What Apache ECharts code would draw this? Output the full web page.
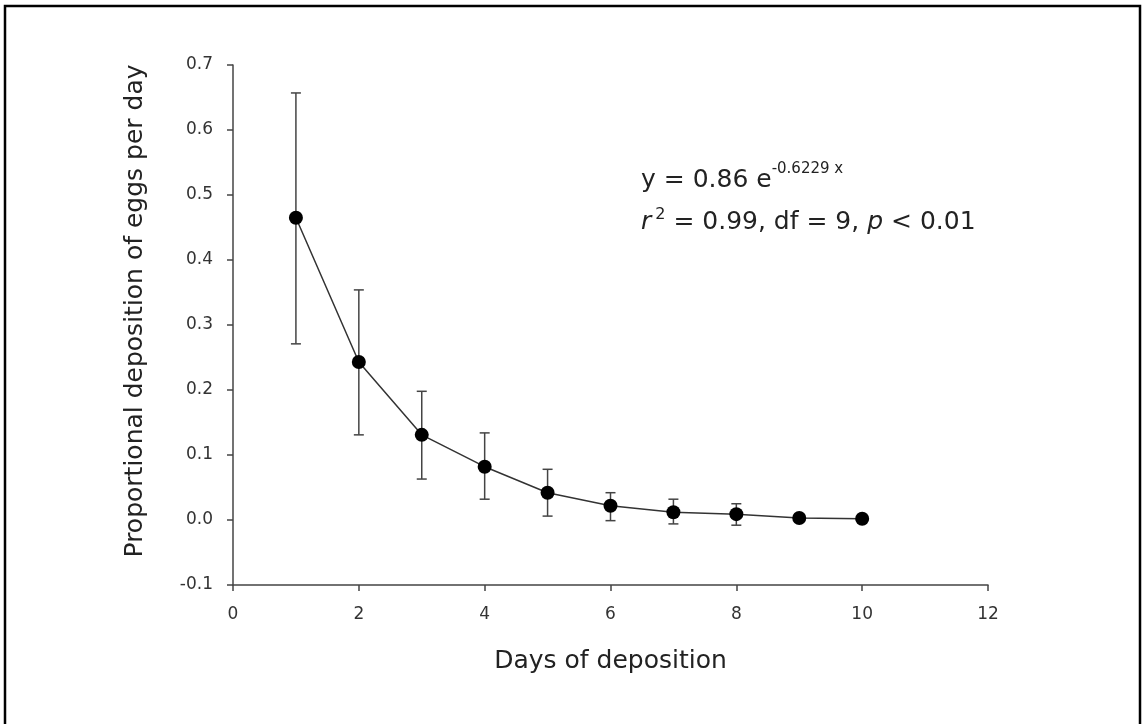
<!DOCTYPE html>
<html>
<head>
<meta charset="utf-8">
<title>Proportional deposition of eggs per day</title>
<script src="https://cdn.jsdelivr.net/npm/echarts@6/dist/echarts.min.js"></script>
<style>
html, body { margin: 0; padding: 0; background: #fff; }
#main { width: 1142px; height: 724px; }
</style>
</head>
<body>
<div id="main"></div>
<script>
// data
var days = [1, 2, 3, 4, 5, 6, 7, 8, 9, 10];
var meanDep = [0.465, 0.243, 0.131, 0.082, 0.042, 0.022, 0.012, 0.009, 0.003, 0.002];
var errHigh = [0.657, 0.354, 0.198, 0.134, 0.078, 0.042, 0.032, 0.025, 0.005, 0.004];
var errLow  = [0.271, 0.131, 0.063, 0.032, 0.006, -0.001, -0.006, -0.008, 0.001, 0.000];

var FONT = 'DejaVu Sans';

function buildChart()
{
    var myChart = echarts.init(document.getElementById('main'));

    var pts = [], bars = [];
    for (var i = 0; i < days.length; i++) {
        pts.push([days[i], meanDep[i]]);
        bars.push([days[i], errLow[i], errHigh[i]]);
    }

    var axisCol = '#444';

    var option = {
        backgroundColor: '#fff',
        animation: false,
        grid: { left: 233, right: 154, top: 65, bottom: 139 },
        xAxis: {
            type: 'value',
            min: 0, max: 12, interval: 2,
            name: 'Days of deposition',
            nameLocation: 'middle',
            nameGap: 64,
            nameTextStyle: { color: '#222', fontSize: 25, fontFamily: FONT },
            axisLine: { show: true, onZero: false, lineStyle: { color: axisCol, width: 1.5 } },
            axisTick: { show: true, length: 6, lineStyle: { color: axisCol, width: 1.5 } },
            axisLabel: { margin: 21, color: '#333', fontSize: 17, fontFamily: FONT },
            splitLine: { show: false }
        },
        yAxis: {
            type: 'value',
            min: -0.1, max: 0.7, interval: 0.1,
            name: 'Proportional deposition of eggs per day',
            nameLocation: 'middle',
            nameGap: 85,
            nameTextStyle: { color: '#222', fontSize: 25, fontFamily: FONT, padding: [0, 0, 0, 28] },
            axisLine: { show: true, onZero: false, lineStyle: { color: axisCol, width: 1.5 } },
            axisTick: { show: true, length: 6, lineStyle: { color: axisCol, width: 1.5 } },
            axisLabel: {
                margin: 20, color: '#333', fontSize: 17, fontFamily: FONT,
                formatter: function (v) { return v.toFixed(1); }
            },
            splitLine: { show: false }
        },
        series: [
            {
                // error bars
                type: 'custom',
                data: bars,
                z: 2,
                renderItem: function (params, api) {
                    var x = api.value(0);
                    var lo = api.coord([x, api.value(1)]);
                    var hi = api.coord([x, api.value(2)]);
                    var cap = 5;
                    var st = { stroke: '#444', lineWidth: 1.5 };
                    return {
                        type: 'group',
                        children: [
                            { type: 'line', shape: { x1: hi[0], y1: hi[1], x2: lo[0], y2: lo[1] }, style: st },
                            { type: 'line', shape: { x1: hi[0] - cap, y1: hi[1], x2: hi[0] + cap, y2: hi[1] }, style: st },
                            { type: 'line', shape: { x1: lo[0] - cap, y1: lo[1], x2: lo[0] + cap, y2: lo[1] }, style: st }
                        ]
                    };
                }
            },
            {
                type: 'line',
                data: pts,
                z: 3,
                symbol: 'circle',
                symbolSize: 14,
                itemStyle: { color: '#000' },
                lineStyle: { color: '#333', width: 1.5 }
            }
        ],
        graphic: [
            {
                type: 'rect',
                shape: { x: 5, y: 6, width: 1135, height: 740 },
                style: { fill: 'none', stroke: '#000', lineWidth: 2.5 },
                silent: true
            },
            {
                type: 'text',
                left: 641, top: 162,
                style: {
                    text: '{n|y = 0.86 e}{s|-0.6229 x}',
                    rich: {
                        n: { fontSize: 25, fill: '#222', fontFamily: FONT, verticalAlign: 'bottom' },
                        s: { fontSize: 15, fill: '#222', fontFamily: FONT, verticalAlign: 'top', padding: [0, 0, 16, 0] }
                    }
                }
            },
            {
                type: 'text',
                left: 641, top: 207,
                style: {
                    text: '{i|r}{s|2}{n| = 0.99, df = 9, }{i|p}{n| < 0.01}',
                    rich: {
                        n: { fontSize: 25, fill: '#222', fontFamily: FONT },
                        i: { fontSize: 25, fill: '#222', fontStyle: 'italic', fontFamily: FONT },
                        s: { fontSize: 16, fill: '#222', fontFamily: FONT, padding: [0, 0, 14, 4] }
                    }
                }
            }
        ]
    };

    myChart.setOption(option);
}

buildChart();
</script>
</body>
</html>
